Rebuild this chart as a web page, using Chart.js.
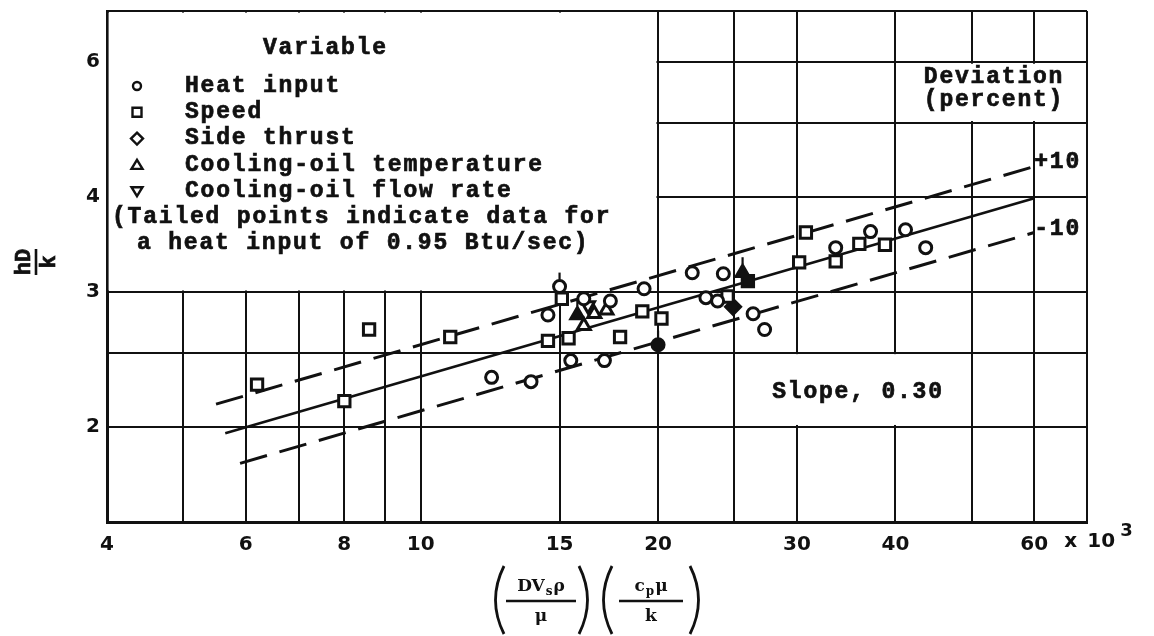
<!DOCTYPE html>
<html>
<head>
<meta charset="utf-8">
<script src="https://cdn.jsdelivr.net/npm/chart.js@4/dist/chart.umd.min.js"></script>
<style>
  html, body { margin: 0; padding: 0; background: #fff; }
  #wrap { width: 1154px; height: 636px; }
</style>
</head>
<body>
<div id="wrap"><canvas id="myChart"></canvas></div>
<script>
// grid lines and which of them carry a number
const xGrid = [4, 5, 6, 7, 8, 9, 10, 15, 20, 25, 30, 40, 50, 60, 70];
const xLabels = [4, 6, 8, 10, 15, 20, 30, 40, 60];
const yGrid = [1.5, 2, 2.5, 3, 4, 5, 6, 7];
const yLabels = [2, 3, 4, 6];

const seriesNames = ['Heat input', 'Speed', 'Side thrust', 'Cooling-oil temperature', 'Cooling-oil flow rate'];

// heat input (circles)
const heatX = [12.3, 13.8, 14.5, 15.5, 16.1, 17.1, 17.4, 19.2, 22.1, 23.0, 23.8, 24.2, 26.4, 27.3, 33.6, 37.2, 41.2, 43.7];
const heatY = [2.32, 2.29, 2.80, 2.44, 2.94, 2.44, 2.92, 3.03, 3.18, 2.95, 2.92, 3.17, 2.81, 2.68, 3.43, 3.60, 3.62, 3.43];
// speed (squares)
const speedX = [6.2, 8.0, 8.6, 10.9, 14.5, 15.1, 15.4, 17.9, 19.1, 20.2, 24.5, 30.2, 30.8, 33.6, 36.0, 38.8];
const speedY = [2.27, 2.16, 2.68, 2.62, 2.59, 2.94, 2.61, 2.62, 2.83, 2.77, 2.96, 3.28, 3.59, 3.29, 3.47, 3.46];
// cooling-oil temperature (triangles)
const tempX = [16.1, 16.6, 17.2];
const tempY = [2.71, 2.81, 2.84];
// cooling-oil flow rate (inverted triangles)
const flowX = [16.3];
const flowY = [2.88];

// tailed points, heat input of 0.95 Btu/sec
const heatTailX = [15.0];
const heatTailY = [3.05];
const heatDarkX = [20.0];
const heatDarkY = [2.56];
const speedTailX = [26.0];
const speedTailY = [3.10];
const thrustTailX = [24.9];
const thrustTailY = [2.87];
const tempTailX = [15.8, 25.6];
const tempTailY = [2.80, 3.18];

// correlation line, slope 0.30, with +/-10 percent band
const lineMidX = [5.65, 60];
const lineMidY = [1.96, 3.98];
const linePlusX = [5.5, 60];
const linePlusY = [2.14, 4.38];
const lineMinusX = [5.9, 60];
const lineMinusY = [1.79, 3.59];

const ink = '#111';
const mono = '"Liberation Mono", "DejaVu Sans Mono", monospace';

const pts = (xs, ys) => xs.map((v, i) => ({x: v, y: ys[i]}));

function markers(xs, ys, style, r, fill, extra) {
  return Object.assign({
    data: pts(xs, ys),
    showLine: false,
    pointStyle: style,
    pointRadius: r,
    pointBorderWidth: 3,
    pointBorderColor: ink,
    pointBackgroundColor: fill,
    borderColor: ink,
    backgroundColor: fill,
    order: 0
  }, extra || {});
}

function band(xs, ys, dash, w) {
  return {
    data: pts(xs, ys),
    showLine: true,
    pointRadius: 0,
    borderColor: ink,
    borderWidth: w,
    borderDash: dash,
    order: 5
  };
}

// typed text: fill plus a thin stroke for a heavier strike
function typed(ctx, t, x, y) {
  ctx.fillText(t, x, y);
  ctx.strokeText(t, x, y);
}

function legendSym(ctx, kind, cx, cy) {
  ctx.beginPath();
  if (kind === 0) ctx.arc(cx, cy, 4, 0, Math.PI * 2);
  else if (kind === 1) ctx.rect(cx - 4.5, cy - 4.5, 9, 9);
  else if (kind === 2) { ctx.moveTo(cx, cy - 6); ctx.lineTo(cx + 6, cy); ctx.lineTo(cx, cy + 6); ctx.lineTo(cx - 6, cy); ctx.closePath(); }
  else if (kind === 3) { ctx.moveTo(cx, cy - 5); ctx.lineTo(cx + 5.5, cy + 4); ctx.lineTo(cx - 5.5, cy + 4); ctx.closePath(); }
  else { ctx.moveTo(cx, cy + 5); ctx.lineTo(cx + 5.5, cy - 4); ctx.lineTo(cx - 5.5, cy - 4); ctx.closePath(); }
  ctx.stroke();
}

function paren(ctx, px, top, bot, dir) {
  const mid = (top + bot) / 2;
  ctx.beginPath();
  ctx.moveTo(px + 7 * dir, top);
  ctx.quadraticCurveTo(px - 10 * dir, mid, px + 7 * dir, bot);
  ctx.stroke();
}

const decor = {
  id: 'decor',
  beforeDatasetsDraw(chart) {
    const {ctx, scales: {x, y}} = chart;
    ctx.save();
    // white panels over the grid
    ctx.fillStyle = '#fff';
    const panel = (x0, x1, y0, y1) => {
      const l = x.getPixelForValue(x0), r = x.getPixelForValue(x1);
      const t = y.getPixelForValue(y1), b = y.getPixelForValue(y0);
      ctx.fillRect(l + 1.6, t + 1.6, r - l - 3.2, b - t - 3.2);
    };
    panel(4, 20, 3, 7);
    panel(40, 70, 5, 6);
    panel(25, 50, 2, 2.5);

    ctx.fillStyle = ink;
    ctx.strokeStyle = ink;
    ctx.font = 'bold 23px ' + mono;
    ctx.letterSpacing = '1.8px';
    ctx.textBaseline = 'middle';
    ctx.textAlign = 'left';
    ctx.lineWidth = 0.7;
    typed(ctx, 'Variable', 263, 48);
    seriesNames.forEach((name, i) => {
      const cy = 86 + i * 26.3;
      typed(ctx, name, 185, cy);
    });
    typed(ctx, '(Tailed points indicate data for', 112, 217);
    typed(ctx, 'a heat input of 0.95 Btu/sec)', 137, 243);
    ctx.lineWidth = 2.4;
    seriesNames.forEach((name, i) => legendSym(ctx, i, 137, 86 + i * 26.3));

    ctx.lineWidth = 0.7;
    ctx.textAlign = 'center';
    typed(ctx, 'Deviation', 994, 77);
    typed(ctx, '(percent)', 994, 100);
    typed(ctx, 'Slope, 0.30', 858, 392);
    ctx.restore();
  },
  afterDatasetsDraw(chart) {
    const {ctx} = chart;
    ctx.save();
    ctx.strokeStyle = ink;
    ctx.fillStyle = ink;
    ctx.lineWidth = 2.2;
    // short stems on the tailed points
    chart.data.datasets.forEach((ds, i) => {
      if (!ds.tail) return;
      chart.getDatasetMeta(i).data.forEach(p => {
        const top = p.y - ds.pointRadius - 1;
        ctx.beginPath();
        ctx.moveTo(p.x, top);
        ctx.lineTo(p.x, top - 7);
        ctx.stroke();
      });
    });
    // band labels at the line ends
    ctx.font = 'bold 23px ' + mono;
    ctx.letterSpacing = '1.8px';
    ctx.textBaseline = 'middle';
    ctx.textAlign = 'left';
    ctx.lineWidth = 0.7;
    const plusEnd = chart.getDatasetMeta(1).data[1];
    const minusEnd = chart.getDatasetMeta(2).data[1];
    typed(ctx, '+10', plusEnd.x, plusEnd.y - 4);
    typed(ctx, '-10', minusEnd.x, minusEnd.y - 3);
    ctx.restore();
  },
  afterDraw(chart) {
    const {ctx, scales: {x}} = chart;
    ctx.save();
    ctx.fillStyle = ink;
    ctx.strokeStyle = ink;

    // "x 10^3" after the last number
    const p60 = x.getPixelForValue(60);
    ctx.font = 'bold 20px "DejaVu Sans"';
    ctx.textBaseline = 'middle';
    ctx.textAlign = 'left';
    ctx.fillText('x', p60 + 30, 542);
    ctx.fillText('10', p60 + 53, 542);
    ctx.font = 'bold 18px "DejaVu Sans"';
    ctx.fillText('3', p60 + 86, 531);

    // y title: hD over k, turned on its side
    ctx.save();
    ctx.translate(35, 262);
    ctx.rotate(-Math.PI / 2);
    ctx.font = 'bold 22px ' + mono;
    ctx.textAlign = 'center';
    ctx.textBaseline = 'middle';
    ctx.lineWidth = 0.7;
    typed(ctx, 'hD', 0, -11);
    typed(ctx, 'k', 0, 14);
    ctx.lineWidth = 2.6;
    ctx.beginPath();
    ctx.moveTo(-13, 1);
    ctx.lineTo(13, 1);
    ctx.stroke();
    ctx.restore();

    // x title: (D Vs rho / mu)(cp mu / k)
    const big = 'bold 17px "DejaVu Serif"';
    const small = 'bold 12px "DejaVu Serif"';
    const numY = 591, barY = 601, denY = 621;
    ctx.textBaseline = 'alphabetic';
    ctx.textAlign = 'left';
    ctx.lineWidth = 2.4;

    function num(cx, a, sub, b) {
      ctx.font = big;
      const wa = ctx.measureText(a).width, wb = ctx.measureText(b).width;
      ctx.font = small;
      const ws = ctx.measureText(sub).width;
      let px = cx - (wa + ws + wb + 2) / 2;
      ctx.font = big;
      ctx.fillText(a, px, numY);
      px += wa + 1;
      ctx.font = small;
      ctx.fillText(sub, px, numY + 4);
      px += ws + 1;
      ctx.font = big;
      ctx.fillText(b, px, numY);
    }
    function den(cx, t) {
      ctx.font = big;
      ctx.textAlign = 'center';
      ctx.fillText(t, cx, denY);
      ctx.textAlign = 'left';
    }
    function bar(cx, half) {
      ctx.beginPath();
      ctx.moveTo(cx - half, barY);
      ctx.lineTo(cx + half, barY);
      ctx.stroke();
    }

    num(541, 'DV', 's', 'ρ');
    bar(541, 35);
    den(541, 'μ');
    num(651, 'c', 'p', 'μ');
    bar(651, 32);
    den(651, 'k');
    ctx.lineWidth = 2.8;
    paren(ctx, 497, 566, 634, 1);
    paren(ctx, 586, 566, 634, -1);
    paren(ctx, 605, 566, 634, 1);
    paren(ctx, 697, 566, 634, -1);
    ctx.restore();
  }
};

const datasets = [
  band(lineMidX, lineMidY, [], 2.6),
  band(linePlusX, linePlusY, [28, 13], 3),
  band(lineMinusX, lineMinusY, [28, 13], 3),
  markers(heatX, heatY, 'circle', 6, '#fff'),
  markers(speedX, speedY, 'rect', 8, '#fff'),
  markers(tempX, tempY, 'triangle', 7.5, '#fff'),
  markers(flowX, flowY, 'triangle', 7.5, '#fff', {pointRotation: 180}),
  markers(heatTailX, heatTailY, 'circle', 6, '#fff', {tail: true}),
  markers(heatDarkX, heatDarkY, 'circle', 6, ink, {tail: true}),
  markers(speedTailX, speedTailY, 'rect', 8, ink),
  markers(thrustTailX, thrustTailY, 'rectRot', 7.5, ink),
  markers(tempTailX, tempTailY, 'triangle', 7.5, ink, {tail: true})
];

new Chart('myChart', {
  type: 'scatter',
  data: {datasets: datasets},
  options: {
    responsive: true,
    maintainAspectRatio: false,
    animation: false,
    events: [],
    layout: {padding: {top: 9, right: 67, left: 0, bottom: 0}},
    plugins: {legend: {display: false}, tooltip: {enabled: false}},
    scales: {
      x: {
        type: 'logarithmic',
        min: 4,
        max: 70,
        afterBuildTicks: s => { s.ticks = xGrid.map(v => ({value: v})); },
        afterFit: s => { s.height = 114; s.paddingLeft = 0; s.paddingRight = 0; },
        grid: {color: ink, lineWidth: 2, drawTicks: false},
        border: {color: ink, width: 3},
        ticks: {
          autoSkip: false,
          maxRotation: 0,
          padding: 11,
          color: ink,
          font: {family: '"DejaVu Sans"', size: 20, weight: 'bold'},
          callback: v => xLabels.includes(v) ? String(v) : ''
        }
      },
      y: {
        type: 'logarithmic',
        min: 1.5,
        max: 7,
        afterBuildTicks: s => { s.ticks = yGrid.map(v => ({value: v})); },
        afterFit: s => { s.width = 107; s.paddingTop = 0; s.paddingBottom = 0; },
        grid: {color: ink, lineWidth: 2, drawTicks: false},
        border: {color: ink, width: 3},
        ticks: {
          autoSkip: false,
          padding: 7,
          color: ink,
          font: {family: '"DejaVu Sans"', size: 20, weight: 'bold'},
          callback: v => yLabels.includes(v) ? String(v) : ''
        }
      }
    }
  },
  plugins: [decor]
});
</script>
</body>
</html>
